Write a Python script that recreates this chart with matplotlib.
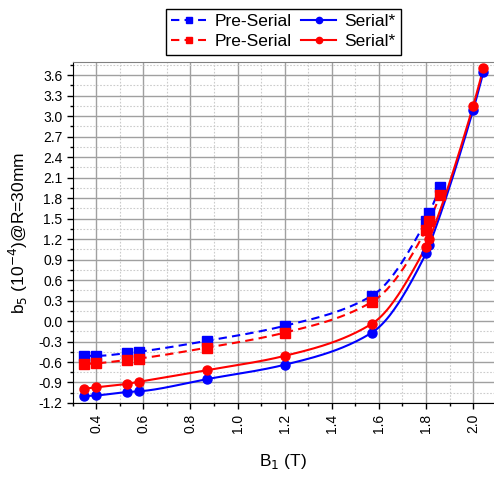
import numpy as np
import matplotlib
matplotlib.use('Agg')
from matplotlib import pyplot as plt
from matplotlib.ticker import MultipleLocator

plt.rcParams['font.family'] = ['Liberation Sans', 'DejaVu Sans']

# data
x_pre = [0.35, 0.40, 0.53, 0.58, 0.87, 1.20, 1.57, 1.80, 1.814, 1.86]
blue_pre = [-0.51, -0.51, -0.47, -0.45, -0.29, -0.07, 0.37, 1.47, 1.58, 1.96]
red_pre = [-0.63, -0.62, -0.57, -0.55, -0.39, -0.17, 0.28, 1.34, 1.46, 1.84]

x_ser = [0.35, 0.40, 0.53, 0.58, 0.87, 1.20, 1.57, 1.80, 1.814, 2.00, 2.044]
blue_ser = [-1.10, -1.09, -1.04, -1.03, -0.85, -0.64, -0.17, 0.99, 1.11, 3.09, 3.65]
red_ser = [-0.99, -0.97, -0.92, -0.89, -0.72, -0.51, -0.04, 1.09, 1.20, 3.15, 3.71]

labels = ['Pre-Serial', 'Pre-Serial', 'Serial*', 'Serial*']


def smooth(x, y, n=40):
    # monotone cubic (pchip style) through the points, only used to draw the line
    x = np.asarray(x, float)
    y = np.asarray(y, float)
    h = np.diff(x)
    d = np.diff(y) / h
    m = np.zeros_like(y)
    for k in range(1, len(y) - 1):
        if d[k - 1] * d[k] > 0:
            w1 = 2 * h[k] + h[k - 1]
            w2 = h[k] + 2 * h[k - 1]
            m[k] = (w1 + w2) / (w1 / d[k - 1] + w2 / d[k])
    m[0] = d[0]
    m[-1] = d[-1]
    xs, ys = [], []
    t = np.linspace(0, 1, n)
    for i in range(len(h)):
        h00 = 2 * t**3 - 3 * t**2 + 1
        h10 = t**3 - 2 * t**2 + t
        h01 = -2 * t**3 + 3 * t**2
        h11 = t**3 - t**2
        xs.append(x[i] + t * h[i])
        ys.append(h00 * y[i] + h10 * h[i] * m[i] + h01 * y[i + 1] + h11 * h[i] * m[i + 1])
    return np.concatenate(xs), np.concatenate(ys)


fig = plt.figure(figsize=(4.94, 4.79), dpi=100)
ax = fig.add_axes([0.1472, 0.1587, 0.853, 0.7113])

handles = []
for xx, yy, c, ls, mk in [(x_pre, blue_pre, 'blue', (0, (4, 2.5)), 's'),
                          (x_pre, red_pre, 'red', (0, (4, 2.5)), 's'),
                          (x_ser, blue_ser, 'blue', '-', 'o'),
                          (x_ser, red_ser, 'red', '-', 'o')]:
    sx, sy = smooth(xx, yy)
    ax.plot(sx, sy, color=c, ls=ls, lw=1.5, zorder=3)
    ax.plot(xx, yy, color=c, ls='none', marker=mk, ms=6.5, zorder=4)
    h, = ax.plot([], [], color=c, ls=ls, lw=1.5, marker=mk, ms=4.5)
    handles.append(h)

ax.set_xlim(0.3, 2.089)
ax.set_ylim(-1.2, 3.79)
ax.xaxis.set_major_locator(MultipleLocator(0.2))
ax.xaxis.set_minor_locator(MultipleLocator(0.1))
ax.yaxis.set_major_locator(MultipleLocator(0.3))
ax.yaxis.set_minor_locator(MultipleLocator(0.15))
ax.xaxis.set_major_formatter(lambda v, p: '%.1f' % v)
ax.yaxis.set_major_formatter(lambda v, p: '%.1f' % v)

ax.grid(which='major', color='#a0a0a0', lw=1.0, ls='-')
ax.grid(which='minor', color='#cccccc', lw=0.8, ls=(0, (1.5, 1.5)))
ax.set_axisbelow(True)

ax.spines['right'].set_visible(False)
ax.spines['top'].set_color('#808080')
ax.tick_params(which='major', direction='out', length=4, width=1, labelsize=10)
ax.tick_params(which='minor', direction='out', length=2.5, width=1)
ax.tick_params(axis='x', labelrotation=90)
ax.tick_params(top=False, right=False)

ax.set_xlabel('B$_1$ (T)', fontsize=12.5, labelpad=14)
ax.set_ylabel('b$_5$ (10$^{-4}$)@R=30mm', fontsize=12.5, labelpad=6)

fig.legend(handles, labels, ncol=2, loc='upper center', bbox_to_anchor=(0.574, 0.981),
           fontsize=12.5, frameon=True, fancybox=False, edgecolor='black', framealpha=1,
           handlelength=2.0, handletextpad=0.5, columnspacing=0.55, labelspacing=0.28,
           borderpad=0.3, borderaxespad=0)

fig.savefig('out.png', dpi=100)
